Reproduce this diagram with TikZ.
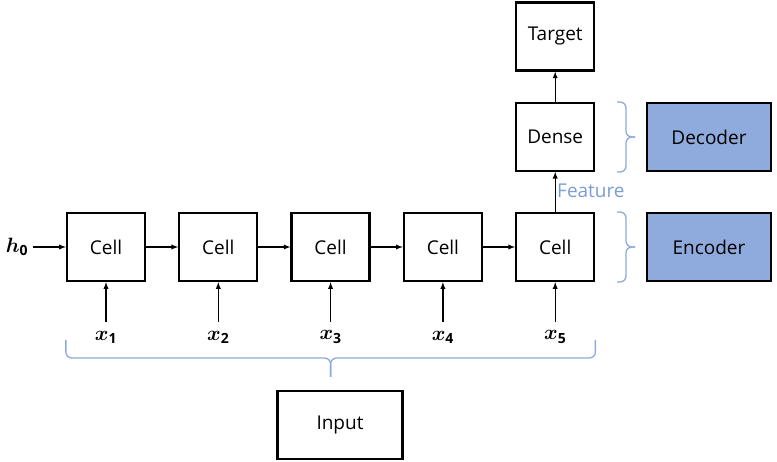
\documentclass[tikz,border=0pt]{standalone}
\usepackage{fontspec}
\setmainfont{Open Sans}
\usepackage{bm}
\usetikzlibrary{arrows, calc, positioning}
\definecolor{officeblue}{HTML}{8FAADC}
\definecolor{featureblue}{HTML}{7C9CD4}
\tikzset{
  % box node style
  block/.style={
    draw
    , line width=2.3pt
    , minimum width=78pt
    , minimum height=68pt
    , anchor=center
    , text centered
    , font=\fontsize{19}{22}\selectfont
  },
}
\tikzset{
  % encoder / decoder box
  part/.style={
    block
    , fill=officeblue
    , minimum width=124pt
  },
}
\tikzset{
  % graph arrow style
  garr/.style={
    line width=1.3pt
  },
}
\tikzset{
  % brace style
  brc/.style={
    draw=officeblue
    , line width=1.3pt
    , rounded corners=6pt
  },
}
\tikzset{
  % math label
  mlab/.style={
    font=\fontsize{20}{24}\selectfont
    , inner sep=1pt
  },
}

\begin{document}
\begin{tikzpicture}[x=1pt, y=-1pt, >=latex]
  \useasboundingbox (0,0) rectangle (777,462);
  % recurrent cells
  \node[block] (cell1) at (106,247) {Cell};
  \node[block, right=32pt of cell1] (cell2) {Cell};
  \node[block, right=32pt of cell2] (cell3) {Cell};
  \node[block, right=32pt of cell3] (cell4) {Cell};
  \node[block, right=32pt of cell4] (cell5) {Cell};
  \node[block, above=40pt of cell5] (dense) {Dense};
  \node[block, above=30pt of dense] (target) {Target};
  \node[part] (decoder) at (709,137) {Decoder};
  \node[part] (encoder) at (709,247) {Encoder};
  \node[block, minimum width=125pt] (input) at (340,425) {Input};
  % inputs
  \node[mlab] (h0) at (17,247) {$\bm{h}_{\mathbf{0}}$};
  \draw[->, garr, shorten <=4pt] (h0) -- (cell1);
  \foreach \i in {1,...,5} {
    \node[mlab] (x\i) at (cell\i |- 0,337) {$\bm{x}_{\mathbf{\i}}$};
    \draw[->, garr, shorten <=8pt] (x\i) -- (cell\i);
  }
  \foreach \i/\j in {1/2, 2/3, 3/4, 4/5}
    \draw[->, garr] (cell\i) -- (cell\j);
  \draw[->, garr] (cell5) -- (dense);
  \draw[->, garr] (dense) -- (target);
  \node[font=\fontsize{19}{22}\selectfont, text=featureblue, anchor=west, inner sep=0pt] (feat) at (557,191) {Feature};
  % braces
  \draw[brc] (617,102) -| (626,137) -- (635,137);
  \draw[brc] (617,172) -| (626,137) -- (635,137);
  \draw[brc] (617,212) -| (626,247) -- (635,247);
  \draw[brc] (617,282) -| (626,247) -- (635,247);
  \coordinate (tip) at ($(cell1.west)!0.5!(cell5.east)$);
  \draw[brc] (cell1.west |- 0,340) |- (tip |- 0,358) -- (tip |- 0,377);
  \draw[brc] (cell5.east |- 0,340) |- (tip |- 0,358) -- (tip |- 0,377);
\end{tikzpicture}
\end{document}
